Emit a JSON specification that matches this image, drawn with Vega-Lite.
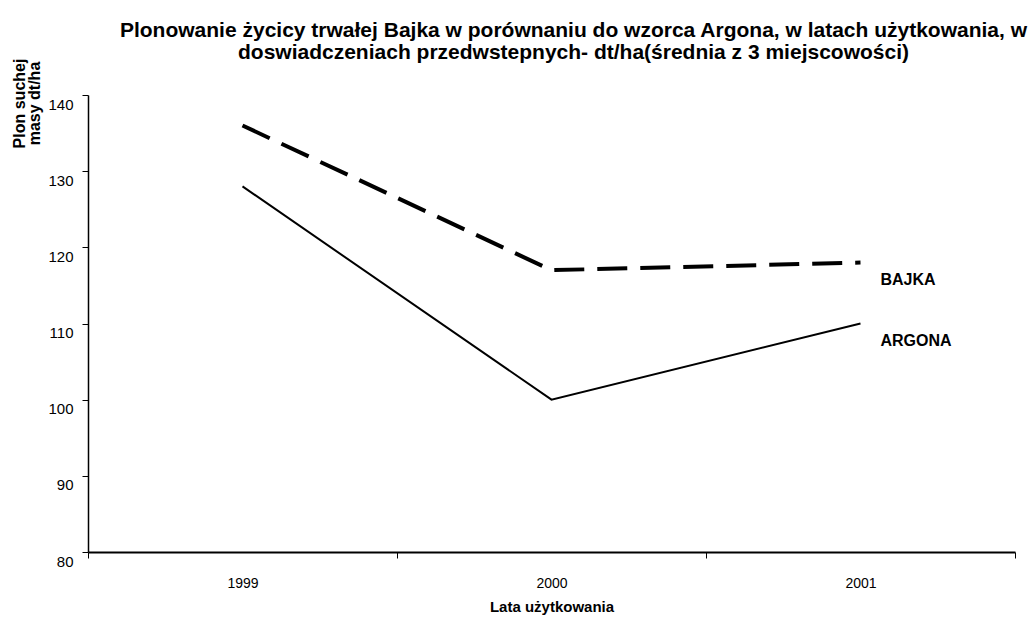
{
  "$schema": "https://vega.github.io/schema/vega-lite/v6.json",
  "autosize": {"type": "none"},
  "width": 927,
  "height": 457,
  "padding": {"left": 88, "top": 95, "right": 17, "bottom": 67},
  "background": "white",
  "config": {
    "font": "Liberation Sans",
    "view": {"stroke": null},
    "axis": {"grid": false, "labelFont": "Liberation Sans", "titleFont": "Liberation Sans", "labelColor": "#000", "titleColor": "#000", "domainColor": "#000", "tickColor": "#000"}
  },
  "title": {
    "text": ["Plonowanie życicy trwałej Bajka w porównaniu do wzorca Argona, w latach użytkowania, w", "doswiadczeniach przedwstepnych- dt/ha(średnia z 3 miejscowości)"],
    "font": "Liberation Sans",
    "fontSize": 21,
    "fontWeight": "bold",
    "color": "#000",
    "anchor": "middle",
    "dx": 22,
    "offset": -5,
    "lineHeight": 22
  },
  "data": {
    "values": [
      {"rok": "1999", "odmiana": "BAJKA", "plon": 136},
      {"rok": "2000", "odmiana": "BAJKA", "plon": 117},
      {"rok": "2001", "odmiana": "BAJKA", "plon": 118},
      {"rok": "1999", "odmiana": "ARGONA", "plon": 128},
      {"rok": "2000", "odmiana": "ARGONA", "plon": 100},
      {"rok": "2001", "odmiana": "ARGONA", "plon": 110}
    ]
  },
  "encoding": {
    "x": {
      "field": "rok", "type": "ordinal",
      "scale": {"paddingInner": 0, "paddingOuter": 0},
      "axis": {
        "title": "Lata użytkowania", "titleFontSize": 15, "titleFontWeight": "bold", "titlePadding": 9,
        "labelAngle": 0, "labelFontSize": 14, "labelPadding": 18,
        "tickBand": "extent", "tickSize": 6, "tickWidth": 1, "domainWidth": 2
      }
    },
    "y": {
      "field": "plon", "type": "quantitative",
      "scale": {"domain": [80, 140], "nice": false, "zero": false},
      "axis": {
        "title": ["Plon suchej", "masy dt/ha"], "titleFontSize": 16, "titleFontWeight": "bold",
        "titleAngle": -90, "titleAlign": "center", "titleBaseline": "top",
        "titleX": -77, "titleY": 8, "titleLineHeight": 15,
        "values": [80, 90, 100, 110, 120, 130, 140],
        "labelFontSize": 15, "labelOffset": 9, "labelPadding": 9, "tickSize": 6, "domainWidth": 1.5
      }
    }
  },
  "layer": [
    {
      "transform": [{"filter": "datum.odmiana === 'BAJKA'"}],
      "mark": {"type": "line", "color": "#000", "strokeWidth": 4, "strokeDash": [30, 13]}
    },
    {
      "transform": [{"filter": "datum.odmiana === 'ARGONA'"}],
      "mark": {"type": "line", "color": "#000", "strokeWidth": 2}
    },
    {
      "transform": [{"filter": "datum.rok === '2001'"}],
      "mark": {"type": "text", "align": "left", "baseline": "middle", "dx": 20, "dy": 17, "fontSize": 16, "fontWeight": "bold", "color": "#000"},
      "encoding": {"text": {"field": "odmiana"}}
    }
  ]
}
